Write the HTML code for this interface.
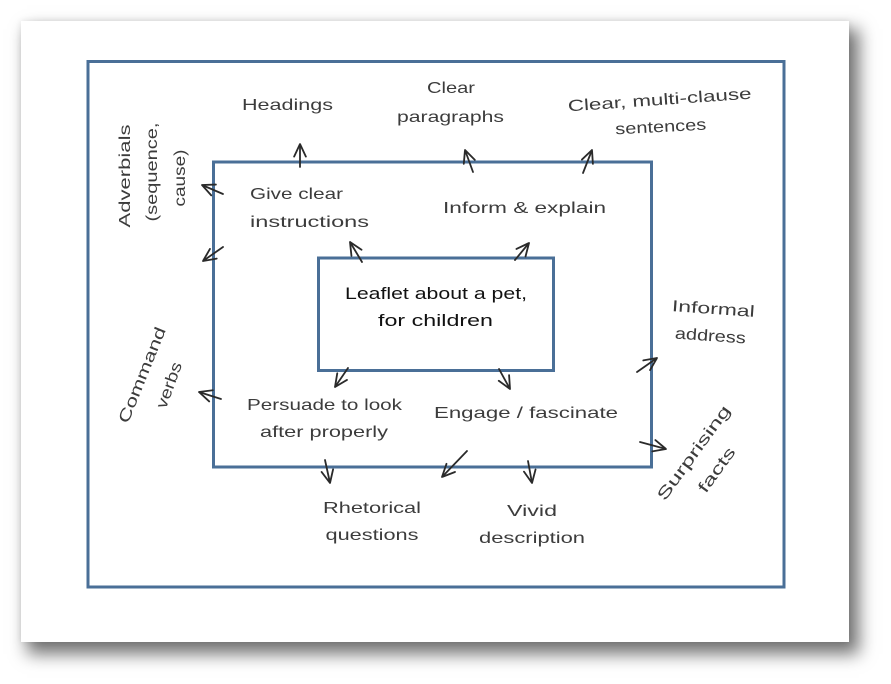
<!DOCTYPE html>
<html>
<head>
<meta charset="utf-8">
<style>
  html,body{margin:0;padding:0;background:#fff;}
  body{width:891px;height:684px;position:relative;overflow:hidden;}
  .paper{position:absolute;left:21px;top:21px;width:828px;height:621px;background:#fff;
    box-shadow:8px 10px 16px 2px rgba(0,0,0,0.55), 0 0 6px rgba(0,0,0,0.08);}
  svg{position:absolute;left:0;top:0;}
  text{font-family:"Liberation Sans","DejaVu Sans",sans-serif;font-size:16px;fill:#3c3c3c;}
  .main{fill:#111;font-size:17px;}
</style>
</head>
<body>
<div class="paper"></div>
<svg width="891" height="684" viewBox="0 0 891 684" xmlns="http://www.w3.org/2000/svg">
  <defs>
    <marker id="ah" markerUnits="userSpaceOnUse" markerWidth="14" markerHeight="14" refX="10" refY="5" viewBox="0 0 10 10" orient="auto">
      <path d="M1,0.8 L10,5 L1,9.2" fill="none" stroke="#2a2a2a" stroke-width="1.3" stroke-linecap="round" stroke-linejoin="round"/>
    </marker>
  </defs>

  <!-- boxes -->
  <rect x="88" y="61.5" width="696" height="525.5" fill="none" stroke="#4a6f97" stroke-width="3"/>
  <rect x="213.5" y="162" width="438" height="305" fill="none" stroke="#4a6f97" stroke-width="3"/>
  <rect x="318.5" y="258" width="235" height="112.5" fill="none" stroke="#4a6f97" stroke-width="3"/>

  <!-- arrows -->
  <g stroke="#2a2a2a" stroke-width="1.8" fill="none" stroke-linecap="round" marker-end="url(#ah)">
    <line x1="300" y1="167" x2="300" y2="144"/>
    <line x1="473" y1="172" x2="465" y2="150"/>
    <line x1="583" y1="173" x2="592" y2="150"/>
    <line x1="223" y1="194" x2="202" y2="185"/>
    <line x1="223" y1="247" x2="203" y2="261"/>
    <line x1="362" y1="262" x2="350" y2="242"/>
    <line x1="515" y1="260" x2="529" y2="243"/>
    <line x1="348" y1="368" x2="335" y2="387"/>
    <line x1="221" y1="399" x2="199" y2="392"/>
    <line x1="325" y1="460" x2="330" y2="483"/>
    <line x1="499" y1="369" x2="510" y2="389"/>
    <line x1="637" y1="372" x2="657" y2="358"/>
    <line x1="640" y1="442" x2="666" y2="449"/>
    <line x1="467" y1="451" x2="442" y2="477"/>
    <line x1="528" y1="461" x2="532" y2="483"/>
  </g>

  <!-- central -->
  <text class="main" x="345" y="299" textLength="182" lengthAdjust="spacingAndGlyphs">Leaflet about a pet,</text>
  <text class="main" x="378" y="326" textLength="115" lengthAdjust="spacingAndGlyphs">for children</text>

  <!-- middle labels -->
  <text x="250" y="199" textLength="93" lengthAdjust="spacingAndGlyphs">Give clear</text>
  <text x="250" y="227" textLength="119" lengthAdjust="spacingAndGlyphs">instructions</text>
  <text x="443" y="213" textLength="163" lengthAdjust="spacingAndGlyphs">Inform &amp; explain</text>
  <text x="247" y="410" textLength="155" lengthAdjust="spacingAndGlyphs">Persuade to look</text>
  <text x="260" y="437" textLength="128" lengthAdjust="spacingAndGlyphs">after properly</text>
  <text x="434" y="418" textLength="184" lengthAdjust="spacingAndGlyphs">Engage / fascinate</text>

  <!-- outer labels -->
  <text x="242" y="110" textLength="91" lengthAdjust="spacingAndGlyphs">Headings</text>
  <text x="427" y="93" textLength="48" lengthAdjust="spacingAndGlyphs">Clear</text>
  <text x="397" y="122" textLength="107" lengthAdjust="spacingAndGlyphs">paragraphs</text>
  <text x="660" y="105" text-anchor="middle" textLength="184" lengthAdjust="spacingAndGlyphs" transform="rotate(-4 660 105)">Clear, multi-clause</text>
  <text x="661" y="132" text-anchor="middle" textLength="91" lengthAdjust="spacingAndGlyphs" transform="rotate(-3 661 132)">sentences</text>
  <text x="713" y="314" text-anchor="middle" textLength="83" lengthAdjust="spacingAndGlyphs" transform="rotate(4 713 314)">Informal</text>
  <text x="710" y="341" text-anchor="middle" textLength="71" lengthAdjust="spacingAndGlyphs" transform="rotate(4 710 341)">address</text>
  <text x="372" y="513" text-anchor="middle" textLength="98" lengthAdjust="spacingAndGlyphs">Rhetorical</text>
  <text x="372" y="540" text-anchor="middle" textLength="93" lengthAdjust="spacingAndGlyphs">questions</text>
  <text x="532" y="516" text-anchor="middle" textLength="50" lengthAdjust="spacingAndGlyphs">Vivid</text>
  <text x="532" y="543" text-anchor="middle" textLength="106" lengthAdjust="spacingAndGlyphs">description</text>

  <!-- rotated left labels -->
  <text x="130" y="176" text-anchor="middle" textLength="103" lengthAdjust="spacingAndGlyphs" transform="rotate(-90 130 176)">Adverbials</text>
  <text x="157" y="172" text-anchor="middle" textLength="99" lengthAdjust="spacingAndGlyphs" transform="rotate(-90 157 172)">(sequence,</text>
  <text x="185" y="178" text-anchor="middle" textLength="57" lengthAdjust="spacingAndGlyphs" transform="rotate(-90 185 178)">cause)</text>
  <text x="147" y="377" text-anchor="middle" textLength="102" lengthAdjust="spacingAndGlyphs" transform="rotate(-68 147 377)">Command</text>
  <text x="174" y="387" text-anchor="middle" textLength="48" lengthAdjust="spacingAndGlyphs" transform="rotate(-70 174 387)">verbs</text>

  <!-- rotated right labels -->
  <text x="698" y="456" text-anchor="middle" textLength="113" lengthAdjust="spacingAndGlyphs" transform="rotate(-54 698 456)">Surprising</text>
  <text x="721" y="473" text-anchor="middle" textLength="52" lengthAdjust="spacingAndGlyphs" transform="rotate(-54 721 473)">facts</text>
</svg>
</body>
</html>
